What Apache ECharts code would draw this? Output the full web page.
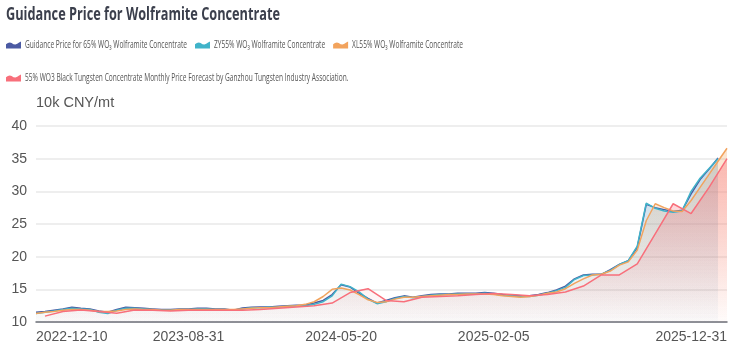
<!DOCTYPE html>
<html>
<head>
<meta charset="utf-8">
<script src="https://cdn.jsdelivr.net/npm/echarts@6/dist/echarts.min.js"></script>
<style>html,body{margin:0;padding:0;background:#fff}#c{width:741px;height:350px}</style>
</head>
<body>
<div id="c"></div>
<script>
const dates = [
'2022-12-10','2022-12-25','2023-01-10','2023-01-31','2023-02-15','2023-02-28','2023-03-15','2023-03-31','2023-04-15','2023-04-30',
'2023-05-15','2023-05-31','2023-06-15','2023-06-30','2023-07-15','2023-07-31','2023-08-15','2023-08-31','2023-09-15','2023-09-30',
'2023-10-15','2023-10-31','2023-11-15','2023-11-30','2023-12-15','2023-12-31','2024-01-15','2024-01-31','2024-02-15','2024-02-29',
'2024-03-15','2024-03-31','2024-04-15','2024-04-30','2024-05-20','2024-05-31','2024-06-15','2024-06-30','2024-07-15','2024-07-31',
'2024-08-15','2024-08-31','2024-09-15','2024-09-30','2024-10-15','2024-10-31','2024-11-15','2024-11-30','2024-12-15','2024-12-31',
'2025-01-15','2025-02-05','2025-02-20','2025-02-28','2025-03-10','2025-03-31','2025-04-10','2025-04-30','2025-05-10','2025-05-31',
'2025-06-10','2025-06-30','2025-07-10','2025-07-31','2025-08-10','2025-08-20','2025-08-31','2025-09-10','2025-09-20','2025-09-30',
'2025-10-10','2025-10-20','2025-10-31','2025-11-10','2025-11-20','2025-11-30','2025-12-10','2025-12-31'
];
const xLabelDates = ['2022-12-10','2023-08-31','2024-05-20','2025-02-05','2025-12-31'];
const yTicks = [10, 15, 20, 25, 30, 35, 40];

const guidance65 = [
11.5,11.6,11.8,12.0,12.25,12.1,12.0,11.7,11.5,11.9,
12.25,12.2,12.1,12.0,11.9,11.9,12.0,12.0,12.1,12.1,
12.0,12.0,11.8,12.15,12.25,12.3,12.3,12.4,12.5,12.55,
12.6,12.9,13.3,14.2,15.7,15.35,14.4,13.6,12.9,13.3,
13.7,14.0,13.8,14.0,14.2,14.3,14.3,14.4,14.4,14.4,
14.5,14.4,14.2,14.1,14.0,14.0,14.2,14.5,14.9,15.5,
16.6,17.2,17.3,17.3,18.0,18.8,19.4,21.4,28.0,27.5,
27.2,26.9,27.1,29.6,31.8,33.4,35.1,null
];
const zy55 = [
11.3,11.5,11.7,11.9,12.1,12.0,11.9,11.5,11.3,11.8,
12.1,12.1,12.0,11.9,11.8,11.8,11.9,11.9,12.0,12.0,
11.9,11.9,11.8,12.0,12.2,12.2,12.25,12.3,12.4,12.5,
12.5,12.7,13.1,14.0,15.8,15.4,14.6,13.5,12.8,13.1,
13.6,13.9,13.7,13.9,14.1,14.2,14.2,14.3,14.3,14.3,
14.4,14.3,14.1,14.0,13.9,13.9,14.1,14.4,14.8,15.3,
16.5,17.1,17.2,17.3,17.9,18.8,19.4,21.6,28.2,27.4,
27.0,26.8,27.0,30.0,32.0,33.5,35.0,null
];
const xl55 = [
11.3,11.5,11.6,11.8,11.9,11.9,11.8,11.6,11.6,11.7,
11.9,12.0,11.9,11.9,11.8,11.8,11.9,11.9,11.9,11.9,
11.9,11.9,11.9,12.0,12.1,12.2,12.2,12.3,12.4,12.5,
12.7,13.1,13.9,15.0,15.2,14.9,14.2,13.4,13.0,13.1,
13.5,13.8,13.8,13.9,14.0,14.1,14.2,14.2,14.3,14.3,
14.3,14.2,14.0,13.9,13.8,13.9,14.1,14.4,14.6,15.1,
15.9,16.6,17.2,17.3,17.8,18.7,19.2,21.0,25.5,28.1,
27.5,27.0,26.9,28.6,30.6,32.6,34.6,36.6
];
const forecastDates = [
'2022-12-25','2023-01-31','2023-02-28','2023-03-31','2023-04-30','2023-05-31','2023-06-30','2023-07-31','2023-08-31','2023-09-30',
'2023-10-31','2023-11-30','2023-12-31','2024-01-31','2024-02-29','2024-03-31','2024-04-30','2024-05-31','2024-06-30','2024-07-31',
'2024-08-31','2024-09-30','2024-10-31','2024-11-30','2024-12-31','2025-02-05','2025-02-28','2025-03-31','2025-04-30','2025-05-31',
'2025-06-30','2025-07-31','2025-08-20','2025-09-10','2025-09-30','2025-10-20','2025-11-10','2025-11-30','2025-12-31'
];
const forecast55 = [
10.9,11.6,11.85,11.6,11.35,11.85,11.8,11.7,11.8,11.8,
11.8,11.8,11.9,12.1,12.3,12.5,12.9,14.5,15.1,13.3,
13.1,13.8,13.9,14.0,14.2,14.35,14.2,14.0,14.2,14.6,
15.5,17.2,17.2,18.9,23.5,28.1,26.6,30.6,35.0
];

const titleText = 'Guidance Price for Wolframite Concentrate';
const names = [
  'Guidance Price for 65% WO\u2083 Wolframite Concentrate',
  'ZY55% WO\u2083 Wolframite Concentrate',
  'XL55% WO\u2083 Wolframite Concentrate',
  '55% WO3 Black Tungsten Concentrate Monthly Price Forecast by Ganzhou Tungsten Industry Association.'
];
const colors = ['#4b5aa3', '#40b3c9', '#f2a35d', '#f86f7b'];
const topAlpha = [0.25, 0.25, 0.42, 0.55];
// legend icon outline (16 x 8 box): wavy top, flat bottom
const iconPoints = [[0,3],[2,1.6],[4,1.2],[6,1.8],[8,3],[10,3.5],[12,2.6],[14,1.2],[16,0],[16,8],[0,8]];

function rgba(hex, a) {
  const n = parseInt(hex.slice(1), 16);
  return 'rgba(' + ((n >> 16) & 255) + ',' + ((n >> 8) & 255) + ',' + (n & 255) + ',' + a + ')';
}
const mctx = document.createElement('canvas').getContext('2d');
function textWidth(t, font) { mctx.font = font; return mctx.measureText(t).width; }

// Title and legend drawn as condensed text (the reference uses a narrow face)
const titleFont = 'bold 18.5px "Open Sans", sans-serif';
const titleScale = 274 / textWidth(titleText, titleFont);
const legFont = '10.5px "Open Sans", sans-serif';
const legScale = 162 / textWidth(names[0], legFont);
const rows = [[0, 1, 2], [3]];
const rowY = [45, 78];
const graphics = [{
  type: 'text', x: 6, y: 15, scaleX: titleScale,
  style: {text: titleText, font: titleFont, fill: '#3b3f4c', verticalAlign: 'middle'}
}];
rows.forEach((row, r) => {
  let x = 6;
  row.forEach(k => {
    graphics.push({
      type: 'polygon', x: x, y: rowY[r] - 3.5, scaleX: 15 / 16, scaleY: 7 / 8,
      shape: {points: iconPoints},
      style: {fill: colors[k]}
    });
    x += 19;
    graphics.push({
      type: 'text', x: x, y: rowY[r], scaleX: legScale,
      style: {text: names[k], font: legFont, fill: '#555', verticalAlign: 'middle'}
    });
    x += textWidth(names[k], legFont) * legScale + 8;
  });
});

const seriesData = [
  guidance65, zy55, xl55,
  forecastDates.map((d, i) => [d, forecast55[i]])
];

const chart = echarts.init(document.getElementById('c'), null, {renderer: 'canvas'});
chart.setOption({
  animation: false,
  color: colors,
  graphic: graphics,
  grid: {left: 36, right: 14, top: 126, bottom: 28, containLabel: false},
  xAxis: {
    type: 'category',
    data: dates,
    boundaryGap: false,
    axisLine: {lineStyle: {color: '#6e7079', width: 1.5}},
    axisTick: {show: false},
    axisLabel: {
      interval: (i, v) => xLabelDates.includes(v),
      alignMinLabel: 'left', alignMaxLabel: 'right',
      showMinLabel: true, showMaxLabel: true,
      fontSize: 14, color: '#555', margin: 8
    }
  },
  yAxis: {
    type: 'value',
    min: yTicks[0], max: yTicks[yTicks.length - 1], interval: 5,
    name: '10k CNY/mt',
    nameLocation: 'end',
    nameGap: 16,
    nameTextStyle: {fontSize: 14.5, color: '#555', align: 'left'},
    axisLine: {show: false},
    axisTick: {show: false},
    axisLabel: {fontSize: 14, color: '#555', margin: 9},
    splitLine: {lineStyle: {color: '#e8e8e8', width: 1.5}}
  },
  series: names.map((nm, k) => ({
    name: nm,
    type: 'line',
    data: seriesData[k],
    connectNulls: true,
    showSymbol: false,
    symbol: 'none',
    lineStyle: {width: 1.5, color: colors[k]},
    itemStyle: {color: colors[k]},
    areaStyle: {
      color: new echarts.graphic.LinearGradient(0, 0, 0, 1, [
        {offset: 0, color: rgba(colors[k], topAlpha[k])},
        {offset: 1, color: rgba(colors[k], 0.02)}
      ])
    }
  }))
});
</script>
</body>
</html>
